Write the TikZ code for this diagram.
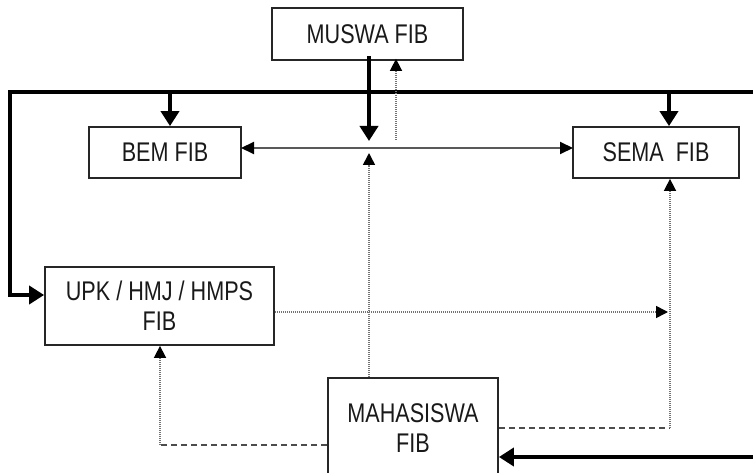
\documentclass[tikz,border=0pt]{standalone}
\usepackage{fontspec}
\setmainfont[FakeStretch=0.8]{Liberation Sans}
\usetikzlibrary{arrows.meta}
\begin{document}
\begin{tikzpicture}[x=1pt,y=-1pt,
  box/.style={draw=black!85, line width=1.8pt, inner sep=0pt, align=center,
    font=\fontsize{27}{30}\selectfont, text=black!90},
  thick arrow/.style={line width=4.5pt, black, -{Triangle[length=15pt,width=18pt]}},
  tipA/.style={-{Triangle[length=12pt,width=12pt,color=black]}},
  dotline/.style={draw=black!55, line width=1.6pt, dash pattern=on 1.2pt off 0.8pt},
  dashline/.style={draw=black!70, line width=2pt, dash pattern=on 6pt off 4pt},
]
\useasboundingbox (0,0) rectangle (753,473);
\clip (0,0) rectangle (753,473);

% boxes
\node[box, minimum width=191pt, minimum height=52pt] (muswa) at (367.5,34) {MUSWA FIB};
\node[box, minimum width=152pt, minimum height=51pt] (bem) at (165,152.5) {BEM FIB};
\node[box, minimum width=166pt, minimum height=51pt] (sema) at (656,152.5) {SEMA\ \ FIB};
\node[box, minimum width=229pt, minimum height=78pt] (upk) at (159.5,306) {UPK / HMJ / HMPS\\FIB};
\node[box, minimum width=170pt, minimum height=100pt] (maha) at (413,428) {MAHASISWA\\FIB};

% helper coordinates
\coordinate (topR) at (760,92);
\coordinate (topL) at (10,92);
\coordinate (upkIn) at (10,295);
\coordinate (bemIn) at (170,92);
\coordinate (semaIn) at (669,92);
\coordinate (midL) at (241,148);
\coordinate (midR) at (573,148);
\coordinate (muswaEnd) at (369,141);
\coordinate (muswaUpStart) at (396,140);
\coordinate (mahaUpEnd) at (369,153);
\coordinate (upkArrowEnd) at (668,312);
\coordinate (semaCorner) at (670,428);
\coordinate (upkCorner) at (160,445);
\coordinate (botR) at (760,457);

% thick bus from the right edge
\draw[thick arrow, line join=miter] (topR) -- (topL) -- (upkIn) -- (upk.west |- upkIn);
\draw[thick arrow] (bemIn) -- (bemIn |- bem.north);
\draw[thick arrow] (semaIn) -- (semaIn |- sema.north);

% MUSWA links
\draw[thick arrow] ([yshift=5pt]muswa.south -| muswaEnd) -- (muswaEnd);
\draw[dotline, tipA] (muswaUpStart) -- ([yshift=2pt]muswa.south -| muswaUpStart);

% BEM <-> SEMA
\draw[draw=black!65, line width=2pt, {Triangle[length=13pt,width=12pt,color=black]}-{Triangle[length=13pt,width=12pt,color=black]}] (midL) -- (midR);

% MAHASISWA up to the middle
\draw[dotline, tipA] (maha.north -| mahaUpEnd) -- (mahaUpEnd);

% UPK to the right
\draw[dotline, tipA] (upk.east |- upkArrowEnd) -- (upkArrowEnd);

% MAHASISWA to SEMA
\draw[dashline] (maha.east |- semaCorner) -- (semaCorner);
\draw[dotline, tipA] (semaCorner) -- (semaCorner |- sema.south);

% MAHASISWA to UPK
\draw[dashline] (maha.west |- upkCorner) -- (upkCorner);
\draw[dotline, tipA] (upkCorner) -- (upkCorner |- upk.south);

% incoming thick arrow to MAHASISWA
\draw[thick arrow] (botR) -- (maha.east |- botR);
\end{tikzpicture}
\end{document}
